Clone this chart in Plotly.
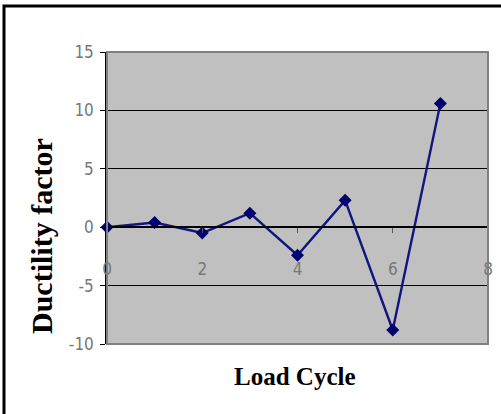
import plotly.graph_objects as go

load_cycle = [0, 1, 2, 3, 4, 5, 6, 7]
ductility = [0.0, 0.4, -0.5, 1.2, -2.4, 2.3, -8.8, 10.6]
x_ticks = [0, 2, 4, 6, 8]
x_tick_text = ["0", "2", "4", "6", "8"]
y_ticks = [-10, -5, 0, 5, 10, 15]
y_tick_text = ["-10", "-5", "0", "5", "10", "15"]

L, R, T, B = 107, 13, 52, 70
W, H = 501, 414
pw, ph = W - L - R, H - T - B

fig = go.Figure()
fig.add_trace(go.Scatter(
    x=load_cycle, y=ductility, mode="lines+markers",
    line=dict(color="#14147E", width=2.4),
    marker=dict(symbol="diamond", size=10, color="#000070"),
    showlegend=False, cliponaxis=False,
))

ymin, ymax = -10, 15
tick_font = dict(family="Liberation Sans Narrow, DejaVu Sans Condensed, Arial Narrow, sans-serif",
                 size=17, color="#777")
title_font = dict(family="Liberation Serif, Times New Roman, serif", size=25, color="black")
fig.update_layout(
    width=W, height=H,
    margin=dict(l=L, r=R, t=T, b=B, autoexpand=False),
    paper_bgcolor="white",
    plot_bgcolor="#C0C0C0",
    xaxis=dict(
        range=[0, 8], tickvals=x_ticks, ticktext=x_tick_text, showgrid=False, zeroline=False,
        anchor="free", position=(0 - ymin) / (ymax - ymin),
        showline=True, linecolor="black", linewidth=1.5,
        ticks="outside", ticklen=5, tickcolor="#555",
        ticklabelstandoff=22,
        tickfont=tick_font,
        title=None,
    ),
    yaxis=dict(
        range=[ymin, ymax], tickvals=y_ticks, ticktext=y_tick_text,
        showgrid=True, gridcolor="black", gridwidth=1.3,
        zeroline=False, showline=True, linecolor="black", linewidth=1.5,
        ticks="outside", ticklen=5, tickcolor="black",
        ticklabelstandoff=3,
        tickfont=tick_font,
        title=None,
    ),
    shapes=[
        dict(type="rect", xref="x domain", yref="y domain", x0=0, x1=1, y0=0, y1=1,
             line=dict(color="#808080", width=2), layer="above"),
        dict(type="rect", xref="paper", yref="paper",
             x0=(4 - L) / pw, x1=1.2, y0=-0.5, y1=(H - B - 6) / ph,
             line=dict(color="black", width=3), layer="above"),
    ],
    annotations=[
        dict(text="<b>Load Cycle</b>", xref="paper", yref="paper",
             x=(295 - L) / pw, y=(H - B - 377) / ph,
             yanchor="middle", xanchor="center", showarrow=False,
             font=title_font),
        dict(text="<b>Ductility factor</b>", xref="paper", yref="paper",
             x=(41 - L) / pw, y=(H - B - 236) / ph, textangle=-90,
             yanchor="middle", xanchor="center", showarrow=False,
             font=dict(family="Liberation Serif, Times New Roman, serif", size=30, color="black")),
    ],
)

fig.write_html("out.html", config={"displayModeBar": False},
               post_script="document.body.style.margin='0';document.body.style.overflow='hidden';")
